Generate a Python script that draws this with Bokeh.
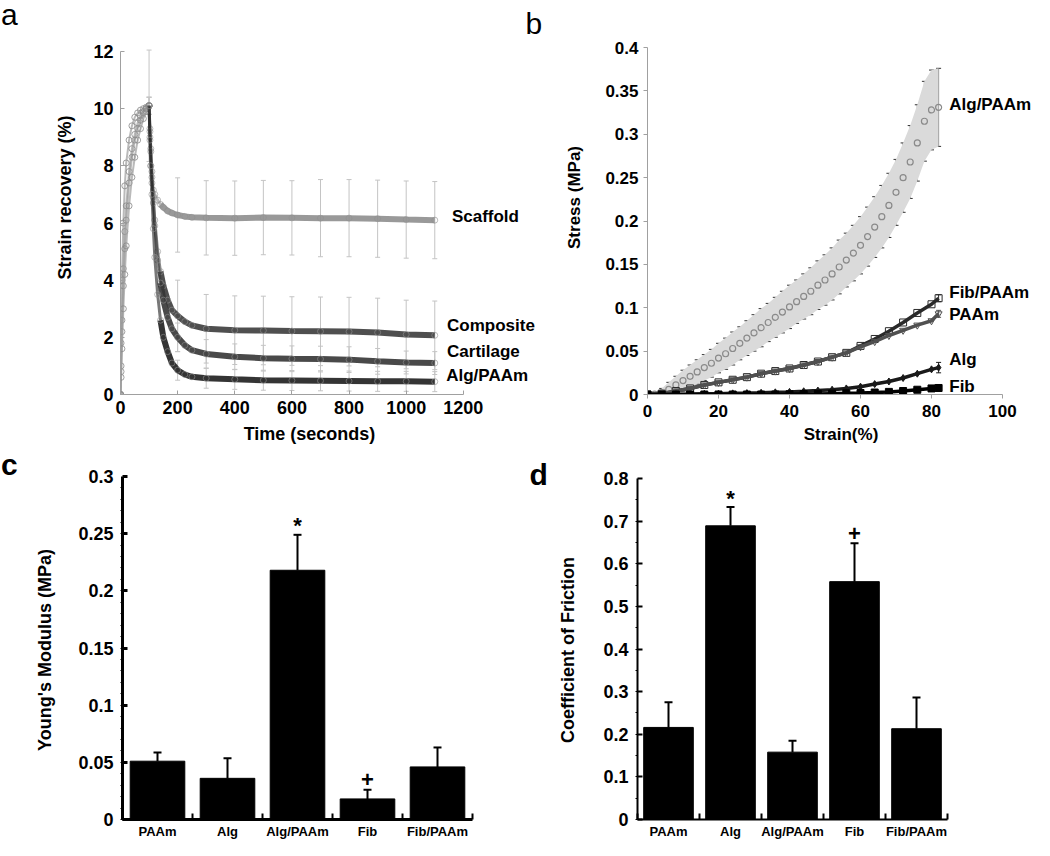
import numpy as np
from bokeh.plotting import figure
from bokeh.layouts import row, column
from bokeh.models import (ColumnDataSource, Whisker, TeeHead, FixedTicker,
                          NumeralTickFormatter, Range1d, Div)
from bokeh.embed import file_html
from bokeh.resources import INLINE
from bokeh.core.properties import value

FONT = "Liberation Sans"
NB = "\u00a0"

# ---------------- Panel a : strain recovery ----------------
a_time = [0, 2, 5, 10, 15, 20, 30, 40, 50, 60, 70, 80, 90, 100,
          103, 106, 110, 115, 120, 130, 140, 150, 165, 180, 200, 225, 250,
          300, 400, 500, 600, 700, 800, 900, 1000, 1100]
a_scaffold = [0, 1.8, 4.0, 6.0, 7.3, 8.1, 8.9, 9.4, 9.7, 9.85, 9.95, 10.0, 10.05, 10.1,
              9.0, 8.0, 7.4, 7.15, 7.0, 6.8, 6.65, 6.55, 6.42, 6.35, 6.28, 6.23, 6.2,
              6.18, 6.17, 6.19, 6.18, 6.17, 6.17, 6.15, 6.12, 6.1]
a_composite = [0, 1.0, 2.6, 4.4, 5.7, 6.6, 7.8, 8.6, 9.1, 9.5, 9.75, 9.9, 10.0, 10.1,
               9.3, 8.6, 7.8, 6.9, 6.1, 5.0, 4.3, 3.8, 3.3, 2.95, 2.75, 2.55, 2.42,
               2.3, 2.25, 2.24, 2.22, 2.21, 2.2, 2.17, 2.1, 2.07]
a_cartilage = [0, 0.8, 2.2, 3.8, 5.1, 6.1, 7.4, 8.3, 8.9, 9.3, 9.6, 9.85, 10.0, 10.1,
               9.2, 8.5, 7.6, 6.7, 5.9, 4.7, 3.9, 3.3, 2.7, 2.3, 2.0, 1.72, 1.55,
               1.42, 1.32, 1.27, 1.25, 1.24, 1.22, 1.16, 1.12, 1.1]
a_algpaam = [0, 0.6, 1.6, 3.0, 4.2, 5.2, 6.6, 7.6, 8.3, 8.9, 9.3, 9.65, 9.9, 10.1,
             8.9, 8.0, 7.0, 5.8, 4.8, 3.5, 2.6, 2.0, 1.5, 1.1, 0.85, 0.7, 0.62,
             0.57, 0.53, 0.5, 0.49, 0.48, 0.47, 0.46, 0.46, 0.45]
a_err_time = [100, 200, 300, 400, 500, 600, 700, 800, 900, 1000, 1100]
a_scaffold_err = [1.95, 1.3, 1.3, 1.3, 1.3, 1.3, 1.35, 1.35, 1.35, 1.35, 1.35]
a_composite_err = [0.3, 1.25, 1.2, 1.2, 1.2, 1.2, 1.2, 1.2, 1.2, 1.2, 1.2]
a_cartilage_err = [0.3, 0.5, 0.5, 0.45, 0.45, 0.45, 0.45, 0.45, 0.45, 0.4, 0.4]
a_algpaam_err = [0.3, 0.35, 0.35, 0.35, 0.35, 0.35, 0.35, 0.35, 0.35, 0.35, 0.35]
a_names = ["Scaffold", "Composite", "Cartilage", "Alg/PAAm"]

# ---------------- Panel b : stress-strain ----------------
b_strain_fine = list(range(0, 81, 2)) + [82]
b_algpaam = [0, 0.0005, 0.002, 0.006, 0.011, 0.016, 0.021, 0.026, 0.031, 0.036,
             0.042, 0.047, 0.053, 0.059, 0.065, 0.071, 0.077, 0.083, 0.089, 0.095,
             0.101, 0.107, 0.113, 0.119, 0.126, 0.132, 0.139, 0.147, 0.155, 0.163,
             0.172, 0.182, 0.193, 0.205, 0.218, 0.233, 0.25, 0.268, 0.29, 0.315,
             0.328, 0.331]
b_algpaam_err = [0, 0.002, 0.005, 0.008, 0.01, 0.012, 0.013, 0.014, 0.015, 0.016,
                 0.017, 0.018, 0.019, 0.019, 0.02, 0.021, 0.022, 0.022, 0.023, 0.024,
                 0.025, 0.025, 0.026, 0.027, 0.028, 0.029, 0.03, 0.031, 0.031, 0.032,
                 0.033, 0.034, 0.035, 0.036, 0.037, 0.038, 0.04, 0.042, 0.044, 0.046,
                 0.046, 0.045]
b_strain = list(range(0, 81, 4)) + [82]
b_fibpaam = [0, 0.001, 0.004, 0.007, 0.011, 0.014, 0.017, 0.02, 0.024, 0.027, 0.030,
             0.034, 0.038, 0.043, 0.048, 0.056, 0.064, 0.073, 0.083, 0.094, 0.104, 0.111]
b_paam = [0, 0.001, 0.004, 0.007, 0.011, 0.014, 0.017, 0.02, 0.024, 0.027, 0.030,
          0.034, 0.038, 0.043, 0.048, 0.055, 0.061, 0.068, 0.074, 0.08, 0.085, 0.093]
b_alg = [0, 0, 0.0003, 0.0005, 0.0008, 0.001, 0.0013, 0.0016, 0.002, 0.0025, 0.003,
         0.0037, 0.0045, 0.0055, 0.007, 0.009, 0.012, 0.015, 0.019, 0.024, 0.029, 0.031]
b_fib = [0, 0, 0, 0, 0, 0, 0, 0, 0, 0, 0.0003, 0.0005, 0.0007, 0.001, 0.0013,
         0.0017, 0.0023, 0.003, 0.004, 0.0055, 0.007, 0.0075]
b_last_err = [0.004, 0.004, 0.006, 0.002]   # Fib/PAAm, PAAm, Alg, Fib (final point)
b_names = ["Alg/PAAm", "Fib/PAAm", "PAAm", "Alg", "Fib"]

# ---------------- Panels c, d : bars ----------------
categories = ["PAAm", "Alg", "Alg/PAAm", "Fib", "Fib/PAAm"]
c_modulus = [0.051, 0.036, 0.218, 0.018, 0.046]
c_modulus_err = [0.0075, 0.0175, 0.031, 0.008, 0.017]
d_friction = [0.216, 0.689, 0.158, 0.558, 0.213]
d_friction_err = [0.059, 0.044, 0.027, 0.090, 0.073]
c_marks = {"Alg/PAAm": "*", "Fib": "+"}
d_marks = {"Alg": "*", "Fib": "+"}


def base_fig(fw, fh, xr, yr, ml, mr, mt, mb):
    p = figure(frame_width=fw, frame_height=fh, x_range=Range1d(*xr), y_range=Range1d(*yr),
               min_border_left=ml, min_border_right=mr, min_border_top=mt,
               min_border_bottom=mb, output_backend="svg", toolbar_location=None,
               title_location=None,
               background_fill_color="white", border_fill_color="white")
    p.xgrid.visible = False
    p.ygrid.visible = False
    p.outline_line_color = None
    return p


def style_axis(ax, color, width, tick_in, tick_out, lab_size, standoff,
               title_size=None, title_standoff=0):
    ax.axis_line_color = color
    ax.axis_line_width = width
    ax.major_tick_line_color = color
    ax.major_tick_line_width = max(1, width)
    ax.major_tick_in = tick_in
    ax.major_tick_out = tick_out
    ax.minor_tick_line_color = None
    ax.major_label_text_font = FONT
    ax.major_label_text_font_style = "bold"
    ax.major_label_text_font_size = lab_size
    ax.major_label_text_color = "black"
    ax.major_label_standoff = standoff
    if title_size:
        ax.axis_label_text_font = FONT
        ax.axis_label_text_font_style = "bold"
        ax.axis_label_text_font_size = title_size
        ax.axis_label_text_color = "black"
        ax.axis_label_standoff = title_standoff


def letter_div(t, height, weight):
    html = ('<div style="font-family: \'Liberation Sans\', Arial, sans-serif; '
            'font-size: 30px; line-height: 30px; color: black; '
            'font-weight: %s; margin: 0 0 0 1px;">%s</div>' % (weight, t))
    return Div(text=html, width=20, height=height, margin=(0, 0, 0, 0))


def letter_glyph(p, x, y, t, style):
    p.text(x=[x], y=[y], text=[t], text_font=value(FONT), text_font_size="30px",
           text_font_style=style, text_color="black", text_baseline="alphabetic",
           text_align="left")


# All frames start at the top of their row; axes are limited with bounds.
# ======== a ========  (frame: x 128..556, y 8..402; y=12 at page 59)
A_PX = 0.2857          # pixels per second
A_PY = 343 / 12        # pixels per % strain
pa = base_fig(428, 394, (0, 428 / A_PX), (0, 394 / A_PY), 100, 0, 0, 56)
pa.xaxis.axis_label = "Time (seconds)" + NB * 10
pa.yaxis.axis_label = "Strain recovery (%)"
style_axis(pa.xaxis[0], "#a0a0a0", 1, 4, 0, "18px", 6, "18px", 7)
style_axis(pa.yaxis[0], "#a0a0a0", 1, 4, 0, "18px", 7, "18px", 15)
pa.xaxis.ticker = FixedTicker(ticks=list(range(0, 1201, 200)))
pa.xaxis.bounds = (0, 1200)
pa.yaxis.ticker = FixedTicker(ticks=list(range(0, 13, 2)))
pa.yaxis.bounds = (0, 12)

a_series = [a_scaffold, a_composite, a_cartilage, a_algpaam]
a_errs = [a_scaffold_err, a_composite_err, a_cartilage_err, a_algpaam_err]
a_colors = ["#8e8e8e", "#3c3c3c", "#353535", "#1e1e1e"]
peak = a_time.index(100)
knee = a_time.index(140)
for vals, errs in zip(a_series, a_errs):
    centers = np.interp(a_err_time, a_time, vals)
    src = ColumnDataSource(dict(x=a_err_time, lo=centers - np.array(errs),
                                hi=centers + np.array(errs)))
    pa.add_layout(Whisker(source=src, base="x", lower="lo", upper="hi",
                          line_color="#c4c4c4", line_width=1,
                          upper_head=TeeHead(size=5, line_color="#c4c4c4"),
                          lower_head=TeeHead(size=5, line_color="#c4c4c4")))
for vals, col in zip(a_series, a_colors):
    # loading ramp
    pa.line(a_time[:peak + 1], vals[:peak + 1], line_color="#9c9c9c", line_width=2,
            line_alpha=0.7)
    pa.scatter(a_time[:peak + 1], vals[:peak + 1], marker="circle", size=6,
               fill_color=None, line_color="#8a8a8a", line_alpha=0.8)
    # fast drop
    pa.line(a_time[peak:knee + 1], vals[peak:knee + 1], line_color=col, line_width=3,
            line_alpha=0.6)
    # slow recovery: dense band
    pa.line(a_time[knee:], vals[knee:], line_color=col, line_width=6, line_alpha=0.9)
    pa.scatter(a_time[peak:], vals[peak:], marker="circle", size=6, fill_color=None,
               line_color="#8f8f8f", line_alpha=0.6)
a_label_x = [1160, 1143, 1143, 1140]
a_label_y = [6.22, 2.42, 1.5, 0.68]
pa.text(x=a_label_x, y=a_label_y, text=a_names, text_font=value(FONT),
        text_font_style="bold", text_font_size="17px", text_baseline="middle",
        text_align="left", text_color="black")
letter_glyph(pa, (533 - 128) / A_PX, (402 - 31) / A_PY, "b", "normal")

# ======== b ========  (frame: x 655..1042, y 8..402; 0.4 at page 55)
B_PX = 3.55                    # pixels per strain %
B_PY = (402 - 55) / 0.4        # pixels per MPa
pb = base_fig(387, 394, (0, 387 / B_PX), (0, 394 / B_PY), 99, 0, 0, 56)
pb.xaxis.axis_label = "Strain(%)"
pb.yaxis.axis_label = "Stress (MPa)"
style_axis(pb.xaxis[0], "#a0a0a0", 1, 0, 4, "17px", 6, "17px", 5)
style_axis(pb.yaxis[0], "#a0a0a0", 1, 0, 4, "17px", 5, "17px", 18)
pb.xaxis.ticker = FixedTicker(ticks=list(range(0, 101, 20)))
pb.xaxis.bounds = (0, 100)
pb.yaxis.ticker = FixedTicker(ticks=[0, 0.05, 0.1, 0.15, 0.2, 0.25, 0.3, 0.35, 0.4])
pb.yaxis.formatter = NumeralTickFormatter(format="0.[00]")
pb.yaxis.bounds = (0, 0.4)

ap = np.array(b_algpaam)
ape = np.array(b_algpaam_err)
pb.varea(x=b_strain_fine, y1=ap - ape, y2=ap + ape, fill_color="#dadada", fill_alpha=1)
src_ap = ColumnDataSource(dict(x=b_strain_fine, lo=ap - ape, hi=ap + ape))
pb.add_layout(Whisker(source=src_ap, base="x", lower="lo", upper="hi",
                      line_color="#5a5a5a", line_width=1,
                      upper_head=TeeHead(size=5, line_color="#333333"),
                      lower_head=TeeHead(size=5, line_color="#333333")))
pb.scatter(b_strain_fine, b_algpaam, marker="circle", size=6, fill_color=None,
           line_color="#8a8a8a", line_width=1.2)

b_others = [b_fibpaam, b_paam, b_alg, b_fib]
b_markers = ["square", "inverted_triangle", "diamond", "square"]
b_colors = ["#2a2a2a", "#505050", "#1a1a1a", "#000000"]
b_fills = [None, None, "#1a1a1a", "#000000"]
for vals, mk, col, fc, le in zip(b_others, b_markers, b_colors, b_fills, b_last_err):
    pb.line(b_strain, vals, line_color=col, line_width=3.5)
    pb.scatter(b_strain, vals, marker=mk, size=7, fill_color=fc, line_color=col)
    src_l = ColumnDataSource(dict(x=[b_strain[-1]], lo=[vals[-1] - le], hi=[vals[-1] + le]))
    pb.add_layout(Whisker(source=src_l, base="x", lower="lo", upper="hi",
                          line_color=col, line_width=1,
                          upper_head=TeeHead(size=5, line_color=col),
                          lower_head=TeeHead(size=5, line_color=col)))
b_label_x = [85, 85, 85, 85, 85]
b_label_y = [0.334, 0.118, 0.092, 0.040, 0.009]
pb.text(x=b_label_x, y=b_label_y, text=b_names, text_font=value(FONT),
        text_font_style="bold", text_font_size="17px", text_baseline="middle",
        text_align="left", text_color="black")


# ======== c & d ========
def bar_panel(fw, fh, xmax, ymax, ybound, yticks, fmt, ml, mr, mt, mb, vals, errs,
              marks, ylabel, lab_size, cat_size, ax_w, title_standoff, bar_w, minor):
    p = base_fig(fw, fh, (0.5, xmax), (0, ymax), ml, mr, mt, mb)
    pos = np.arange(1, len(categories) + 1)
    p.vbar(x=pos, top=vals, width=bar_w, fill_color="black", line_color="black")
    src = ColumnDataSource(dict(x=pos, lo=vals, hi=np.array(vals) + np.array(errs)))
    p.add_layout(Whisker(source=src, base="x", lower="lo", upper="hi",
                         line_color="black", line_width=2,
                         upper_head=TeeHead(size=8, line_color="black", line_width=2),
                         lower_head=None))
    xa = p.xaxis[0]
    style_axis(xa, "black", ax_w, 0, 0, cat_size, 4)
    xa.ticker = FixedTicker(ticks=list(pos),
                            minor_ticks=list(np.arange(0.5, len(categories) + 1, 1.0)))
    xa.major_label_overrides = {int(i): c for i, c in zip(pos, categories)}
    xa.minor_tick_line_color = "black"
    xa.minor_tick_line_width = 2
    xa.minor_tick_in = 6
    xa.minor_tick_out = 0
    xa.bounds = (0.5, len(categories) + 0.5)
    ya = p.yaxis[0]
    ya.axis_label = ylabel
    style_axis(ya, "black", ax_w, 5, 0, lab_size, 7, "18px", title_standoff)
    ya.ticker = FixedTicker(ticks=yticks, minor_ticks=minor)
    ya.formatter = NumeralTickFormatter(format=fmt)
    ya.minor_tick_line_color = "black"
    ya.minor_tick_in = 0
    ya.minor_tick_out = 2
    ya.bounds = (0, ybound)
    for cat, sym in marks.items():
        i = categories.index(cat)
        top = vals[i] + errs[i]
        p.text(x=[pos[i]], y=[top], text=[sym], text_font=value(FONT),
               text_font_style="bold", text_font_size="22px", text_baseline="middle",
               text_align="center", y_offset=(-9 if sym == "*" else -10),
               text_color="black")
    return p


# row 2 frames: y 458..827
# c: x 130..556 (70 px per category), 0.3 at page 484
C_PY = (827 - 484) / 0.3
pc = bar_panel(426, 369, 0.5 + 426 / 70, 369 / C_PY, 0.3,
               [0, 0.05, 0.1, 0.15, 0.2, 0.25, 0.3], "0.[00]",
               102, 0, 0, 21, c_modulus, c_modulus_err, c_marks,
               "Young's Modulus (MPa)" + NB * 6, "18px", "13px", 3, 20, 0.78,
               list(np.arange(0, 0.3, 0.01)))
letter_glyph(pc, 0.5 + (537 - 130) / 70, (827 - 482) / C_PY, "d", "bold")

# d: x 645..955 (62 px per category), 0.8 at page 486
D_PY = (827 - 486) / 0.8
pd_ = bar_panel(310, 369, 5.5, 369 / D_PY, 0.8,
                [0, 0.1, 0.2, 0.3, 0.4, 0.5, 0.6, 0.7, 0.8], "0.[0]",
                89, 87, 0, 21, d_friction, d_friction_err, d_marks,
                "Coefficient of Friction" + NB * 6, "18px", "13px", 2, 22, 0.8,
                list(np.arange(0, 0.8, 0.05)))

layout = column(row(letter_div("a", 450, "normal"), pa, pb),
                row(letter_div("c", 390, "bold"), pc, pd_))
open("out.html", "w").write(file_html(layout, INLINE))
